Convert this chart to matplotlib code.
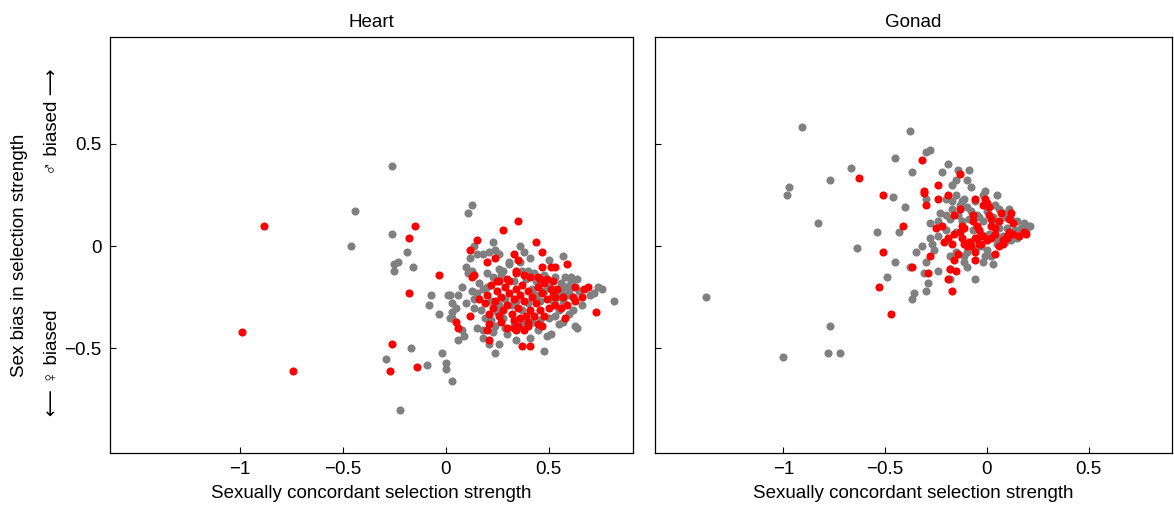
import numpy as np
import matplotlib
matplotlib.use("Agg")
import matplotlib.pyplot as plt

plt.rcParams["font.family"] = ["Liberation Sans", "DejaVu Sans"]

panel_titles = ["Heart", "Gonad"]
x_ticks = [-1, -0.5, 0, 0.5]
x_tick_labels = ["\u22121", "\u22120.5", "0", "0.5"]
y_ticks = [-0.5, 0, 0.5]
y_tick_labels = ["\u22120.5", "0", "0.5"]

# (concordant selection, sex bias)
heart_gray = np.array([
    (-0.26, 0.39), (-0.44, 0.17), (-0.26, 0.06), (-0.46, 0.0), (-0.19, -0.03),
    (-0.25, -0.09), (-0.23, -0.08), (-0.25, -0.12), (-0.16, -0.10), (-0.07, -0.24),
    (0.01, -0.24), (-0.08, -0.29), (-0.03, -0.33), (0.03, -0.28), (0.02, -0.35),
    (-0.17, -0.50), (-0.02, -0.52), (-0.29, -0.55), (-0.09, -0.58), (0.0, -0.57),
    (0.0, -0.60), (0.03, -0.66), (-0.22, -0.80),
    (0.13, 0.20), (0.11, 0.16), (0.23, 0.02), (0.14, 0.0), (0.36, 0.0),
    (0.38, -0.03), (0.15, -0.04), (0.18, -0.04), (0.21, -0.03), (0.24, -0.02),
    (0.26, -0.04), (0.12, -0.06), (0.31, -0.08), (0.41, -0.06), (0.50, -0.07),
    (0.57, -0.05), (0.10, -0.10), (0.11, -0.13), (0.13, -0.12), (0.20, -0.13),
    (0.27, -0.12), (0.28, -0.12), (0.37, -0.12), (0.43, -0.13), (0.53, -0.15),
    (0.58, -0.15), (0.61, -0.15), (0.64, -0.16), (0.61, -0.18), (0.58, -0.20),
    (0.61, -0.20), (0.74, -0.20), (0.76, -0.21), (0.82, -0.27), (0.72, -0.23),
    (0.02, -0.24), (0.06, -0.24), (0.03, -0.32), (0.03, -0.35), (0.08, -0.41),
    (0.09, -0.44), (0.06, -0.46), (0.14, -0.26), (0.14, -0.30), (0.15, -0.40),
    (0.18, -0.41), (0.18, -0.45), (0.21, -0.48), (0.26, -0.48), (0.34, -0.46),
    (0.41, -0.45), (0.29, -0.40), (0.33, -0.38), (0.37, -0.38), (0.49, -0.44),
    (0.51, -0.43), (0.57, -0.37), (0.63, -0.39), (0.64, -0.40), (0.62, -0.31),
    (0.56, -0.22), (0.59, -0.20), (0.59, -0.24), (0.61, -0.17), (0.48, -0.51),
    (0.24, -0.52),
    (0.16, -0.18), (0.18, -0.21), (0.15, -0.23), (0.17, -0.31), (0.19, -0.35),
    (0.22, -0.36), (0.24, -0.39), (0.26, -0.29), (0.29, -0.26), (0.32, -0.29),
    (0.34, -0.27), (0.37, -0.31), (0.40, -0.28), (0.42, -0.21), (0.44, -0.24),
    (0.46, -0.27), (0.48, -0.22), (0.50, -0.20), (0.52, -0.27), (0.54, -0.25),
    (0.55, -0.31), (0.53, -0.34), (0.50, -0.35), (0.46, -0.36), (0.42, -0.37),
    (0.38, -0.38), (0.28, -0.35), (0.25, -0.32), (0.22, -0.27), (0.20, -0.20),
    (0.23, -0.15), (0.27, -0.14), (0.33, -0.17), (0.39, -0.16), (0.44, -0.17),
    (0.48, -0.14), (0.40, -0.12), (0.26, -0.11), (0.31, -0.09), (0.36, -0.08),
    (0.56, -0.18), (0.60, -0.23), (0.65, -0.22), (0.66, -0.29), (0.57, -0.27),
    (0.70, -0.24), (0.60, -0.33), (0.55, -0.38), (0.45, -0.41), (0.30, -0.43),
    (0.23, -0.42), (0.13, -0.22), (0.10, -0.28), (0.08, -0.20), (0.05, -0.30),
])

heart_red = np.array([
    (-0.88, 0.10), (-0.15, 0.10), (-0.18, 0.04), (-0.03, -0.14), (-0.18, -0.23),
    (-0.99, -0.42), (-0.26, -0.48), (-0.14, -0.59), (-0.27, -0.61), (-0.74, -0.61),
    (0.35, 0.12), (0.28, 0.08), (0.15, 0.03), (0.12, -0.02), (0.44, 0.02),
    (0.47, -0.03), (0.33, -0.04), (0.24, -0.06), (0.20, -0.08), (0.35, -0.07),
    (0.53, -0.10), (0.51, -0.10), (0.59, -0.09), (0.47, -0.10), (0.13, -0.15),
    (0.14, -0.14), (0.34, -0.12), (0.34, -0.13), (0.38, -0.14), (0.41, -0.15),
    (0.45, -0.15), (0.46, -0.16), (0.49, -0.16), (0.52, -0.17), (0.26, -0.17),
    (0.30, -0.16), (0.63, -0.20), (0.69, -0.20), (0.67, -0.21), (0.73, -0.32),
    (0.05, -0.37), (0.06, -0.40), (0.12, -0.34), (0.16, -0.26), (0.20, -0.41),
    (0.21, -0.38), (0.21, -0.46), (0.37, -0.49), (0.41, -0.49), (0.33, -0.40),
    (0.34, -0.41), (0.38, -0.41), (0.40, -0.37), (0.40, -0.39), (0.45, -0.38),
    (0.47, -0.39), (0.58, -0.35), (0.48, -0.34), (0.59, -0.29), (0.56, -0.30),
    (0.66, -0.25), (0.63, -0.27), (0.62, -0.25), (0.57, -0.25), (0.53, -0.29),
    (0.53, -0.25), (0.54, -0.21), (0.51, -0.21),
    (0.22, -0.19), (0.25, -0.22), (0.27, -0.25), (0.24, -0.27), (0.29, -0.20),
    (0.31, -0.23), (0.33, -0.26), (0.30, -0.29), (0.28, -0.31), (0.34, -0.21),
    (0.36, -0.24), (0.38, -0.27), (0.35, -0.30), (0.32, -0.33), (0.37, -0.19),
    (0.40, -0.22), (0.42, -0.25), (0.44, -0.28), (0.41, -0.31), (0.39, -0.34),
    (0.45, -0.20), (0.47, -0.23), (0.49, -0.26), (0.46, -0.31), (0.43, -0.34),
    (0.26, -0.34), (0.23, -0.30), (0.20, -0.24), (0.19, -0.28), (0.27, -0.37),
    (0.33, -0.36), (0.36, -0.35), (0.50, -0.30), (0.52, -0.24), (0.48, -0.18),
    (0.31, -0.17), (0.25, -0.17), (0.21, -0.33), (0.30, -0.40), (0.35, -0.39),
])

gonad_gray = np.array([
    (-0.91, 0.58), (-0.97, 0.29), (-0.98, 0.25), (-0.77, 0.32), (-0.67, 0.38),
    (-0.45, 0.43), (-0.46, 0.24), (-0.83, 0.11), (-0.54, 0.07), (-0.64, -0.01),
    (-0.45, -0.08), (-0.49, -0.15), (-1.38, -0.25), (-0.77, -0.39), (-1.0, -0.54),
    (-0.78, -0.52), (-0.72, -0.52),
    (-0.38, 0.56), (-0.30, 0.46), (-0.28, 0.47), (-0.37, 0.36), (-0.19, 0.40),
    (-0.22, 0.36), (-0.14, 0.37), (-0.09, 0.37), (-0.15, 0.32), (-0.10, 0.32),
    (-0.08, 0.29), (-0.17, 0.30), (-0.30, 0.23), (-0.40, 0.19), (-0.20, 0.23),
    (-0.17, 0.22), (-0.15, 0.25), (-0.12, 0.22), (-0.11, 0.23), (-0.01, 0.27),
    (-0.02, 0.25), (0.05, 0.25), (-0.23, 0.16), (0.18, 0.11), (0.21, 0.10),
    (-0.43, 0.07), (-0.28, 0.11), (-0.24, 0.12), (-0.20, 0.08), (-0.24, 0.05),
    (-0.28, 0.04),
    (-0.35, -0.03), (-0.32, 0.0), (-0.27, 0.01), (-0.26, -0.02), (-0.30, -0.08),
    (-0.38, -0.10), (-0.31, -0.13), (-0.29, -0.18), (-0.30, -0.22), (-0.36, -0.23),
    (-0.37, -0.26), (-0.24, -0.12), (-0.18, -0.11), (-0.18, -0.16), (-0.18, -0.05),
    (-0.15, -0.03), (-0.11, -0.05), (-0.11, -0.08), (-0.10, -0.10), (-0.06, -0.16),
    (-0.01, -0.05), (-0.02, -0.08), (0.03, -0.09),
    (-0.05, 0.15), (0.0, 0.17), (0.03, 0.14), (0.06, 0.18), (0.09, 0.14),
    (0.12, 0.13), (0.15, 0.12), (0.17, 0.09), (0.19, 0.08), (0.20, 0.10),
    (0.14, 0.08), (0.10, 0.09), (0.06, 0.09), (0.03, 0.11), (-0.02, 0.12),
    (-0.04, 0.14), (-0.08, 0.17), (-0.10, 0.19), (-0.09, 0.13), (-0.07, 0.08),
    (-0.03, 0.06), (0.01, 0.06), (0.05, 0.04), (0.08, 0.05), (0.12, 0.03),
    (0.15, 0.04), (0.13, 0.06), (0.16, 0.07), (0.09, 0.02), (0.05, 0.01),
    (0.0, -0.02), (-0.03, 0.0), (-0.08, 0.02), (-0.12, 0.12), (-0.14, 0.15),
    (-0.17, 0.18), (-0.13, 0.20), (0.04, 0.20), (0.08, 0.16), (0.11, 0.18),
    (-0.06, 0.22), (0.02, -0.05), (-0.06, -0.02), (-0.10, -0.03), (-0.15, 0.07),
    (-0.18, 0.13), (-0.20, 0.15),
])

gonad_red = np.array([
    (-0.63, 0.33), (-0.51, 0.25), (-0.51, -0.03), (-0.53, -0.20), (-0.47, -0.33),
    (-0.32, 0.42), (-0.13, 0.35), (-0.24, 0.30), (-0.31, 0.26), (-0.31, 0.27),
    (-0.19, 0.25), (-0.24, 0.23), (-0.30, 0.20), (-0.06, 0.23), (-0.01, 0.23),
    (0.0, 0.21), (0.01, 0.19), (-0.02, 0.20), (-0.13, 0.18), (-0.16, 0.15),
    (-0.07, 0.15), (-0.07, 0.12), (0.07, 0.16), (0.12, 0.16), (0.01, 0.15),
    (0.02, 0.13), (0.06, 0.12), (0.11, 0.13), (0.13, 0.11), (-0.41, 0.10),
    (-0.25, 0.09), (-0.22, 0.10), (-0.12, 0.10), (-0.11, 0.09), (-0.05, 0.10),
    (-0.13, 0.07), (-0.16, 0.06), (-0.12, 0.04), (-0.19, 0.04), (-0.21, 0.02),
    (-0.04, 0.08), (-0.05, 0.04), (-0.06, 0.04), (-0.02, 0.05), (0.0, 0.03),
    (0.02, 0.04), (0.04, 0.06), (0.04, 0.09), (0.02, 0.10), (0.11, 0.07),
    (0.10, 0.05), (0.13, 0.06), (0.16, 0.05), (0.18, 0.07), (0.19, 0.06),
    (0.08, 0.03), (0.06, 0.0), (0.08, 0.01), (0.10, 0.04),
    (-0.17, 0.01), (-0.11, 0.01), (-0.09, 0.02), (-0.10, 0.0), (-0.08, 0.0),
    (-0.04, 0.01), (-0.03, 0.01), (-0.06, -0.03), (-0.14, -0.04), (-0.16, -0.07),
    (-0.06, -0.07), (-0.15, -0.12), (-0.19, -0.16), (-0.18, -0.11), (-0.17, -0.22),
    (-0.28, -0.05), (-0.37, -0.10), (-0.29, -0.13), (0.04, -0.04),
])

fig = plt.figure(figsize=(11.74, 5.11), dpi=100)
ax_heart = fig.add_axes([0.0937, 0.1135, 0.4455, 0.8141])
ax_gonad = fig.add_axes([0.558, 0.1135, 0.4404, 0.8141])

for ax, title, gray, red in [
    (ax_heart, panel_titles[0], heart_gray, heart_red),
    (ax_gonad, panel_titles[1], gonad_gray, gonad_red),
]:
    ax.scatter(gray[:, 0], gray[:, 1], s=34, color="#808080", linewidths=0)
    ax.scatter(red[:, 0], red[:, 1], s=34, color="#ff0000", linewidths=0)
    ax.set_xlim(-1.63, 0.91)
    ax.set_ylim(-1.01, 1.02)
    ax.set_xticks(x_ticks)
    ax.set_xticklabels(x_tick_labels)
    ax.set_yticks(y_ticks)
    ax.tick_params(direction="in", length=4, width=0.8, labelsize=13.5,
                   top=False, right=False, pad=6)
    for sp in ax.spines.values():
        sp.set_linewidth(0.9)
    ax.set_title(title, fontsize=13.5, pad=7)
    ax.set_xlabel("Sexually concordant selection strength", fontsize=13.5, labelpad=5)

ax_heart.set_yticklabels(y_tick_labels)
ax_gonad.set_yticklabels([])

fig.text(0.017, 0.50, "Sex bias in selection strength", rotation=90,
         ha="center", va="center", fontsize=13.5)
fig.text(0.045, 0.762, "\u2642 biased \u27f6", rotation=90,
         ha="center", va="center", fontsize=13.5)
fig.text(0.045, 0.29, "\u27f5 \u2640 biased", rotation=90,
         ha="center", va="center", fontsize=13.5)

fig.savefig("out.png", dpi=100)
